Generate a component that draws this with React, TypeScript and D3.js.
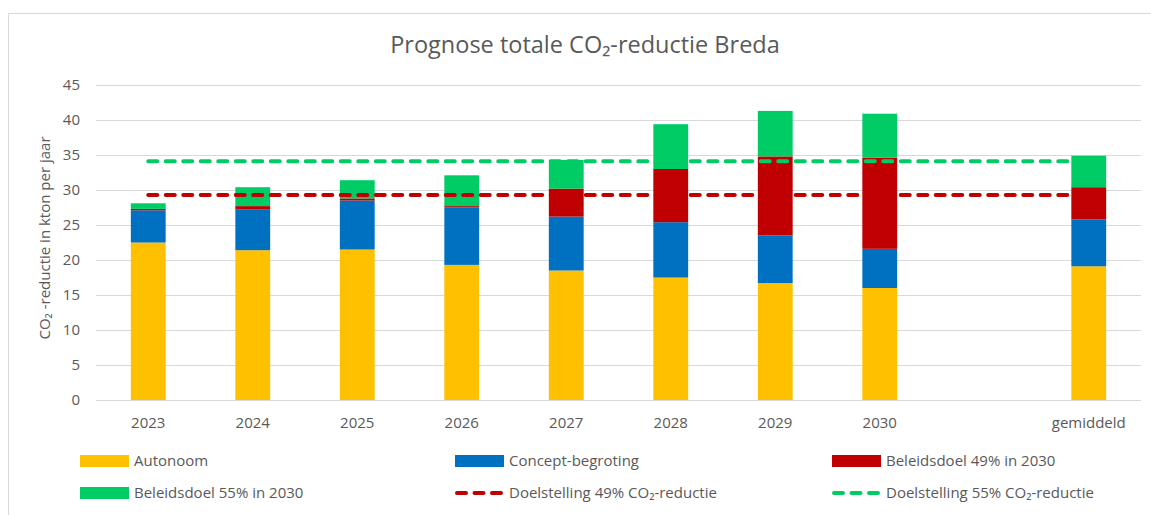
import { useEffect, useRef } from 'react';
import * as d3 from 'd3';

const categories = ['2023', '2024', '2025', '2026', '2027', '2028', '2029', '2030', '', 'gemiddeld'];
const autonoom = [22.5, 21.4, 21.5, 19.3, 18.5, 17.5, 16.7, 16.0, null, 19.1];
const concept = [4.6, 5.8, 7.0, 8.2, 7.7, 7.9, 6.8, 5.6, null, 6.7];
const beleid49 = [0.2, 0.5, 0.3, 0.2, 4.0, 7.6, 11.3, 13.0, null, 4.6];
const beleid55 = [0.8, 2.7, 2.6, 4.4, 4.1, 6.4, 6.5, 6.3, null, 4.5];
const doel49 = [29.3, 29.3, 29.3, 29.3, 29.3, 29.3, 29.3, 29.3, 29.3, 29.3];
const doel55 = [34.1, 34.1, 34.1, 34.1, 34.1, 34.1, 34.1, 34.1, 34.1, 34.1];
const yTicks = [0, 5, 10, 15, 20, 25, 30, 35, 40, 45];

const FONT = "'Open Sans', sans-serif";
const TXT = '#595959';

export default function App() {
  const svgRef = useRef<SVGSVGElement>(null);

  useEffect(() => {
    if (!svgRef.current) return;
    const svg = d3.select(svgRef.current);
    svg.selectAll('*').remove();

    const width = 1151;
    const height = 515;

    // chart frame
    svg.append('rect')
      .attr('x', 8.5).attr('y', 13.5)
      .attr('width', width + 20).attr('height', height + 20)
      .attr('fill', '#fff').attr('stroke', '#d9d9d9');

    const x = d3.scaleBand<string>()
      .domain(categories.map((c, i) => String(i)))
      .range([96, 1141])
      .paddingInner(2 / 3)
      .paddingOuter(1 / 3);
    const y = d3.scaleLinear().domain([0, 45]).range([400, 85]);
    const cx = (i: number) => (x(String(i)) as number) + x.bandwidth() / 2;

    // gridlines
    svg.append('g')
      .selectAll('line')
      .data(yTicks)
      .join('line')
      .attr('x1', 96).attr('x2', 1141)
      .attr('y1', (d) => Math.round(y(d)) + 0.5)
      .attr('y2', (d) => Math.round(y(d)) + 0.5)
      .attr('stroke', '#d9d9d9').attr('stroke-width', 1);

    // y tick labels
    svg.append('g')
      .selectAll('text')
      .data(yTicks)
      .join('text')
      .attr('x', 80).attr('y', (d) => y(d))
      .attr('dy', '0.35em')
      .attr('text-anchor', 'end')
      .attr('font-family', FONT).attr('font-size', 15).attr('fill', TXT)
      .text((d) => d);

    // x labels
    svg.append('g')
      .selectAll('text')
      .data(categories)
      .join('text')
      .attr('x', (d, i) => cx(i)).attr('y', 423)
      .attr('dy', '0.35em')
      .attr('text-anchor', 'middle')
      .attr('font-family', FONT).attr('font-size', 15).attr('fill', TXT)
      .text((d) => d);

    // stacked bars
    const series = [
      { name: 'Autonoom', values: autonoom, color: '#FFC000' },
      { name: 'Concept-begroting', values: concept, color: '#0070C0' },
      { name: 'Beleidsdoel 49% in 2030', values: beleid49, color: '#C00000' },
      { name: 'Beleidsdoel 55% in 2030', values: beleid55, color: '#00CC66' },
    ];
    const base = categories.map(() => 0);
    series.forEach((s) => {
      const rows = s.values.map((v, i) => ({ i, v, y0: base[i] }));
      rows.forEach((r) => { if (r.v != null) base[r.i] += r.v; });
      svg.append('g')
        .selectAll('rect')
        .data(rows.filter((r) => r.v != null))
        .join('rect')
        .attr('x', (d) => x(String(d.i)) as number)
        .attr('width', x.bandwidth())
        .attr('y', (d) => y(d.y0 + (d.v as number)))
        .attr('height', (d) => y(d.y0) - y(d.y0 + (d.v as number)))
        .attr('fill', s.color);
    });

    // target lines
    const lines = [
      { name: 'Doelstelling 49% CO₂-reductie', values: doel49, color: '#C00000' },
      { name: 'Doelstelling 55% CO₂-reductie', values: doel55, color: '#00CC66' },
    ];
    const lineGen = d3.line<number>().x((d, i) => cx(i)).y((d) => y(d));
    lines.forEach((l) => {
      svg.append('path')
        .attr('d', lineGen(l.values))
        .attr('fill', 'none')
        .attr('stroke', l.color)
        .attr('stroke-width', 4)
        .attr('stroke-linecap', 'round')
        .attr('stroke-dasharray', '9 8.5');
    });

    // title
    svg.append('text')
      .attr('x', 585).attr('y', 45)
      .attr('dy', '0.35em')
      .attr('text-anchor', 'middle')
      .attr('font-family', FONT).attr('font-size', 23.5).attr('fill', TXT)
      .text('Prognose totale CO₂-reductie Breda');

    // y axis title
    svg.append('text')
      .attr('transform', 'translate(45,238) rotate(-90)')
      .attr('dy', '0.35em')
      .attr('text-anchor', 'middle')
      .attr('font-family', FONT).attr('font-size', 15).attr('fill', TXT)
      .text('CO₂ -reductie in kton per jaar');

    // legend
    const legend = [
      { ...series[0], kind: 'rect', lx: 80, ly: 461 },
      { ...series[1], kind: 'rect', lx: 455, ly: 461 },
      { ...series[2], kind: 'rect', lx: 832, ly: 461 },
      { ...series[3], kind: 'rect', lx: 80, ly: 493 },
      { ...lines[0], kind: 'line', lx: 455, ly: 493 },
      { ...lines[1], kind: 'line', lx: 832, ly: 493 },
    ];
    const lg = svg.append('g');
    legend.forEach((d) => {
      if (d.kind === 'rect') {
        lg.append('rect')
          .attr('x', d.lx).attr('y', d.ly - 6)
          .attr('width', 49).attr('height', 12)
          .attr('fill', d.color);
      } else {
        lg.append('line')
          .attr('x1', d.lx + 2).attr('x2', d.lx + 47)
          .attr('y1', d.ly).attr('y2', d.ly)
          .attr('stroke', d.color).attr('stroke-width', 4)
          .attr('stroke-linecap', 'round')
          .attr('stroke-dasharray', '9 8.5');
      }
      lg.append('text')
        .attr('x', d.lx + 54).attr('y', d.ly)
        .attr('dy', '0.35em')
        .attr('font-family', FONT).attr('font-size', 15).attr('fill', TXT)
        .text(d.name);
    });
  }, []);

  return (
    <svg
      ref={svgRef}
      width={1151}
      height={515}
      style={{ position: 'absolute', left: 0, top: 0, background: '#fff' }}
    />
  );
}
